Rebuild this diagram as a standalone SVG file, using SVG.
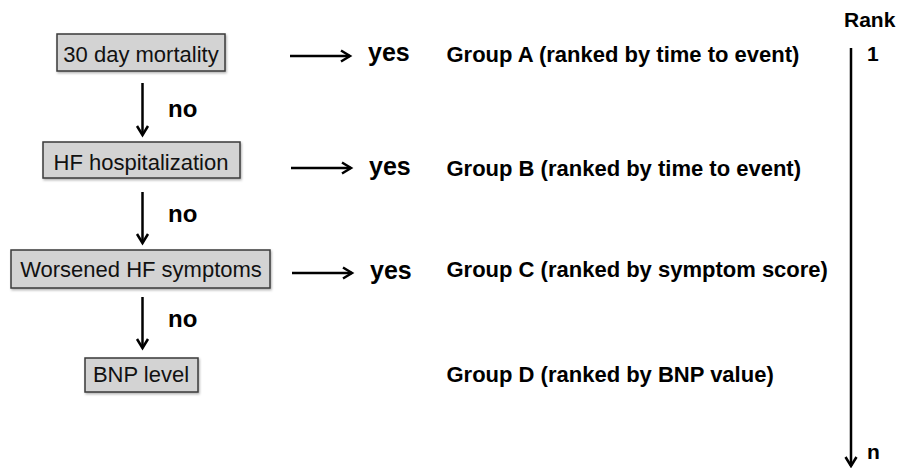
<svg xmlns="http://www.w3.org/2000/svg" width="901" height="468" viewBox="0 0 901 468">
<style>
.box{fill:#d3d3d3;stroke:#3a3a3a;stroke-width:1.5;filter:url(#sh)}
.bt{font-family:"Liberation Sans",Arial,sans-serif;font-size:22px;fill:#111;text-anchor:middle}
.lb{font-family:"Liberation Sans",Arial,sans-serif;font-weight:bold;fill:#000}
.ln{stroke:#000;stroke-width:2.5;fill:none;marker-end:url(#ah)}
</style>
<defs>
<marker id="ah" markerUnits="userSpaceOnUse" markerWidth="16" markerHeight="16" viewBox="-12 -8 16 16" refX="0" refY="0" orient="auto">
<path d="M-9,-5.5 L0,0 L-9,5.5" fill="none" stroke="#000" stroke-width="2.5"/>
</marker>
<filter id="sh" x="-5%" y="-10%" width="115%" height="140%">
<feDropShadow dx="1" dy="1.5" stdDeviation="1" flood-color="#000" flood-opacity="0.3"/>
</filter>
</defs>
<rect width="901" height="468" fill="#fff"/>
<g id="n1"><rect class="box" x="57" y="34" width="168" height="37"/><text class="bt" x="141" y="62">30 day mortality</text></g>
<g id="n2"><rect class="box" x="43" y="142" width="197" height="36"/><text class="bt" x="141" y="169.5">HF hospitalization</text></g>
<g id="n3"><rect class="box" x="11" y="250" width="259" height="38"/><text class="bt" x="141" y="276.5">Worsened HF symptoms</text></g>
<g id="n4"><rect class="box" x="85" y="358" width="113" height="34"/><text class="bt" x="141" y="381.5">BNP level</text></g>
<g id="connectors">
<line class="ln" x1="142.5" y1="83" x2="142.5" y2="135"/>
<line class="ln" x1="142.5" y1="192" x2="142.5" y2="243"/>
<line class="ln" x1="142.5" y1="297" x2="142.5" y2="348"/>
<line class="ln" x1="290" y1="56" x2="350" y2="56"/>
<line class="ln" x1="291" y1="168" x2="351" y2="168"/>
<line class="ln" x1="292" y1="273" x2="352" y2="273"/>
<line class="ln" x1="851" y1="48" x2="851" y2="466"/>
</g>
<g id="labels">
<text class="lb" x="168" y="117" font-size="24">no</text>
<text class="lb" x="168" y="222" font-size="24">no</text>
<text class="lb" x="168" y="327" font-size="24">no</text>
<text class="lb" x="368" y="61" font-size="25">yes</text>
<text class="lb" x="369" y="175" font-size="25">yes</text>
<text class="lb" x="370" y="279" font-size="25">yes</text>
</g>
<g id="groups">
<text class="lb" x="446.5" y="62" font-size="22">Group A (ranked by time to event)</text>
<text class="lb" x="446.5" y="176" font-size="22">Group B (ranked by time to event)</text>
<text class="lb" x="446.5" y="277" font-size="22">Group C (ranked by symptom score)</text>
<text class="lb" x="446.5" y="382" font-size="22">Group D (ranked by BNP value)</text>
</g>
<g id="rank">
<text class="lb" x="844" y="27" font-size="21">Rank</text>
<text class="lb" x="867" y="61" font-size="21">1</text>
<text class="lb" x="867" y="459" font-size="21">n</text>
</g>
</svg>
